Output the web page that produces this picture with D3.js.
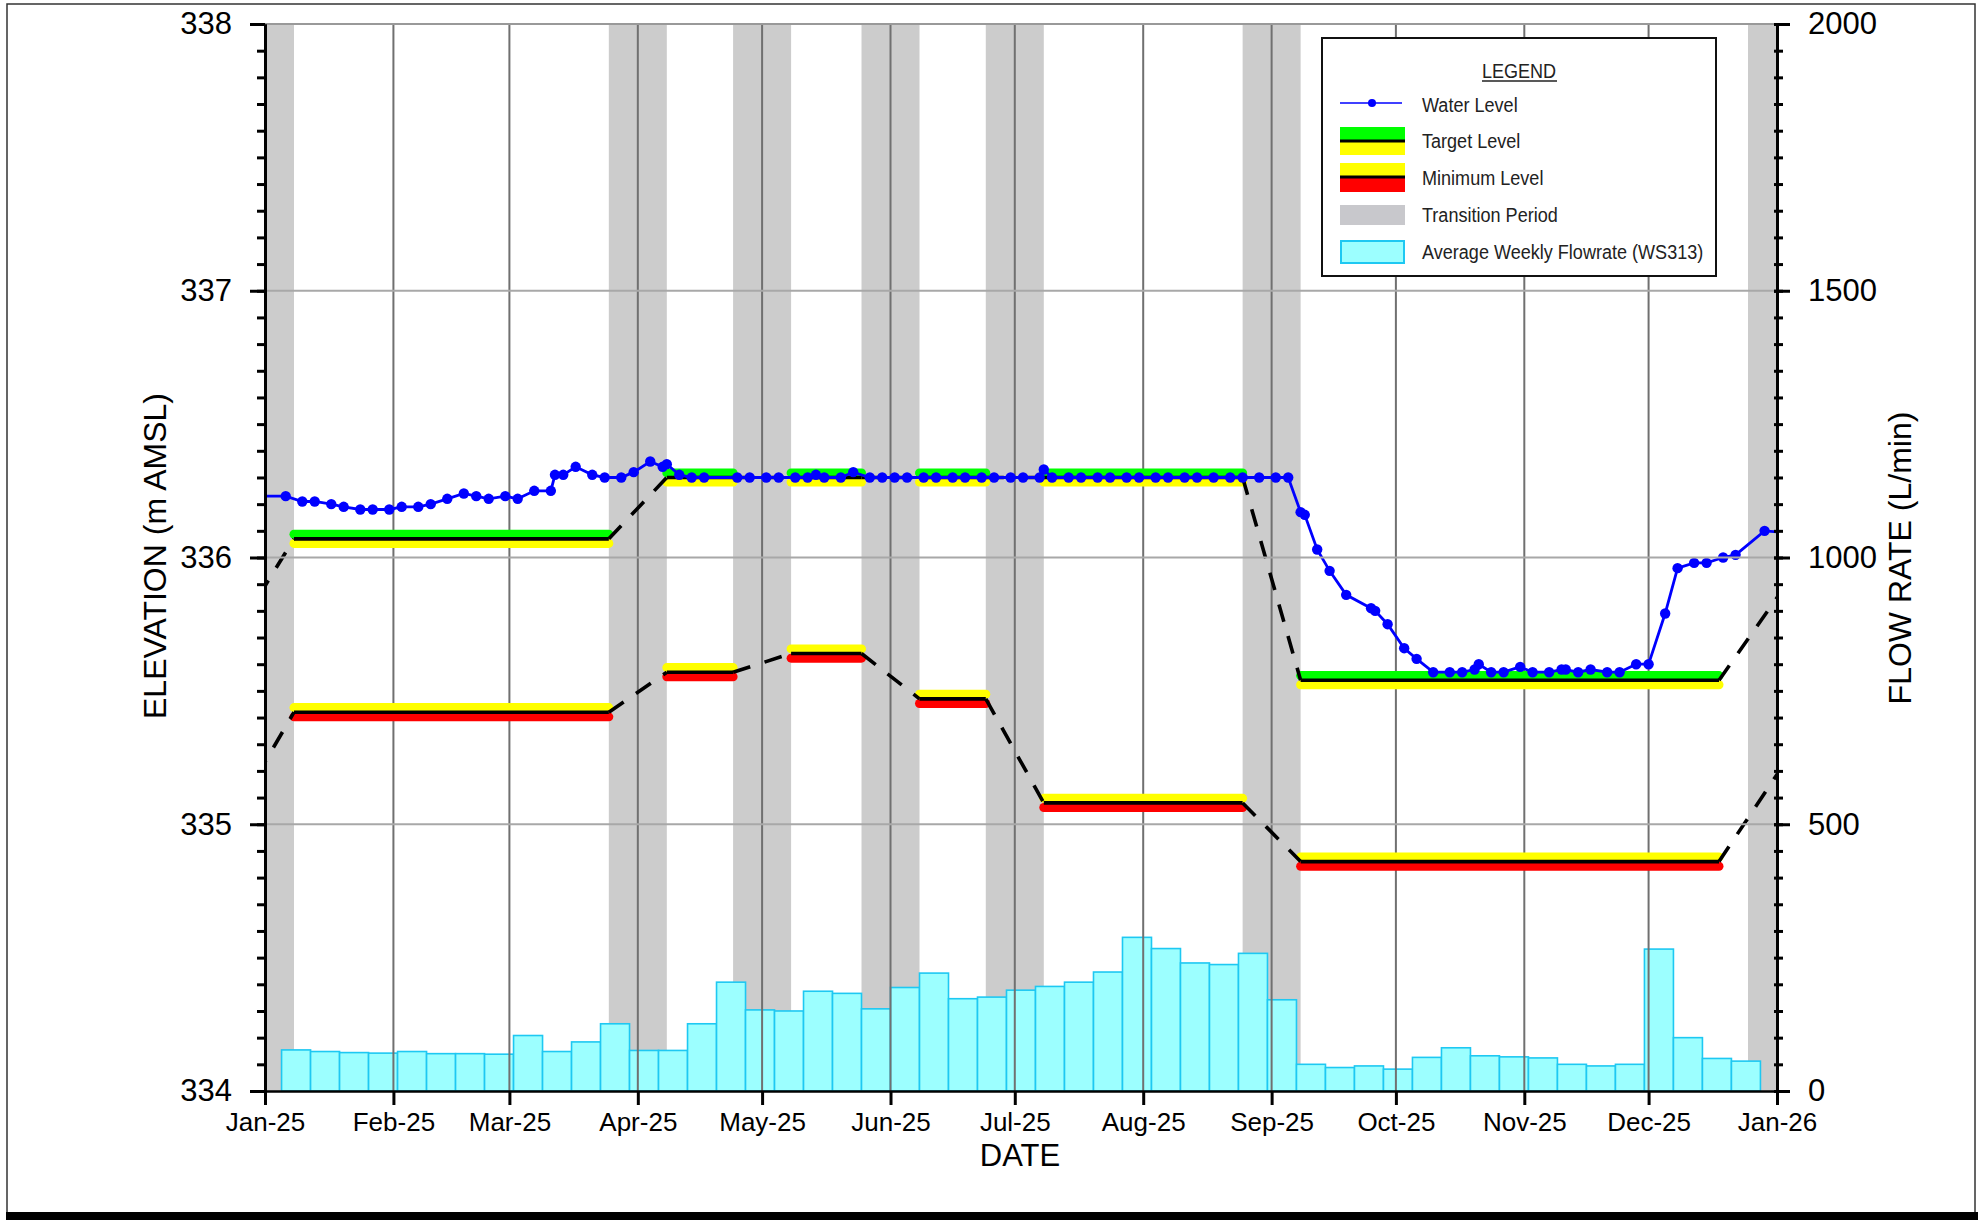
<!DOCTYPE html>
<html><head><meta charset="utf-8">
<script src="https://cdn.jsdelivr.net/npm/d3@7"></script>
<style>
html,body{margin:0;padding:0;background:#fff;}
svg{display:block;font-family:"Liberation Sans",Arial,Helvetica,sans-serif;}
</style></head><body>
<svg id="chart" width="1984" height="1220"></svg>
<script>
// ---------------- DATA ----------------
const monthTicks = ["2025-01-01","2025-02-01","2025-03-01","2025-04-01","2025-05-01","2025-06-01","2025-07-01","2025-08-01","2025-09-01","2025-10-01","2025-11-01","2025-12-01","2026-01-01"];
const monthLabels = ["Jan-25","Feb-25","Mar-25","Apr-25","May-25","Jun-25","Jul-25","Aug-25","Sep-25","Oct-25","Nov-25","Dec-25","Jan-26"];
const elevTicks = [334,335,336,337,338];
const flowTicks = [0,500,1000,1500,2000];

const transitionStart = ["2024-12-25","2025-03-25","2025-04-24","2025-05-25","2025-06-24","2025-08-25","2025-12-25"];
const transitionEnd   = ["2025-01-08","2025-04-08","2025-05-08","2025-06-08","2025-07-08","2025-09-08","2026-01-08"];

const targetStart = ["2025-01-08","2025-04-08","2025-05-08","2025-06-08","2025-07-08","2025-09-08"];
const targetEnd   = ["2025-03-25","2025-04-24","2025-05-25","2025-06-24","2025-08-25","2025-12-18"];
const targetLevel = [336.07, 336.30, 336.30, 336.30, 336.30, 335.54];
const targetLeadIn  = ["2024-12-18", 335.54];
const targetLeadOut = ["2026-01-11", 336.07];

const minimumStart = ["2025-01-08","2025-04-08","2025-05-08","2025-06-08","2025-07-08","2025-09-08"];
const minimumEnd   = ["2025-03-25","2025-04-24","2025-05-25","2025-06-24","2025-08-25","2025-12-18"];
const minimumLevel = [335.42, 335.57, 335.64, 335.47, 335.08, 334.86];
const minimumLeadIn  = ["2024-12-18", 334.86];
const minimumLeadOut = ["2026-01-11", 335.42];

const waterDates = ["2024-12-30","2025-01-06","2025-01-10","2025-01-13","2025-01-17","2025-01-20","2025-01-24","2025-01-27","2025-01-31",
"2025-02-03","2025-02-07","2025-02-10","2025-02-14","2025-02-18","2025-02-21","2025-02-24","2025-02-28",
"2025-03-03","2025-03-07","2025-03-11","2025-03-12","2025-03-14","2025-03-17","2025-03-21","2025-03-24","2025-03-28","2025-03-31",
"2025-04-04","2025-04-07","2025-04-08","2025-04-11","2025-04-14","2025-04-17","2025-04-25","2025-04-28",
"2025-05-02","2025-05-05","2025-05-09","2025-05-12","2025-05-14","2025-05-16","2025-05-20","2025-05-23","2025-05-27","2025-05-30",
"2025-06-02","2025-06-05","2025-06-09","2025-06-12","2025-06-16","2025-06-19","2025-06-23","2025-06-26","2025-06-30",
"2025-07-03","2025-07-07","2025-07-08","2025-07-10","2025-07-14","2025-07-17","2025-07-21","2025-07-24","2025-07-28","2025-07-31",
"2025-08-04","2025-08-07","2025-08-11","2025-08-14","2025-08-18","2025-08-22","2025-08-25","2025-08-29",
"2025-09-02","2025-09-05","2025-09-08","2025-09-09","2025-09-12","2025-09-15","2025-09-19","2025-09-25","2025-09-26","2025-09-29",
"2025-10-03","2025-10-06","2025-10-10","2025-10-14","2025-10-17","2025-10-20","2025-10-21","2025-10-24","2025-10-27","2025-10-31",
"2025-11-03","2025-11-07","2025-11-10","2025-11-11","2025-11-14","2025-11-17","2025-11-21","2025-11-24","2025-11-28",
"2025-12-01","2025-12-05","2025-12-08","2025-12-12","2025-12-15","2025-12-19","2025-12-22","2025-12-29","2026-01-05"];
const waterLevels = [336.23,336.23,336.21,336.21,336.20,336.19,336.18,336.18,336.18,
336.19,336.19,336.20,336.22,336.24,336.23,336.22,336.23,
336.22,336.25,336.25,336.31,336.31,336.34,336.31,336.30,336.30,336.32,
336.36,336.34,336.35,336.31,336.30,336.30,336.30,336.30,
336.30,336.30,336.30,336.30,336.31,336.30,336.30,336.32,336.30,336.30,
336.30,336.30,336.30,336.30,336.30,336.30,336.30,336.30,336.30,
336.30,336.30,336.33,336.30,336.30,336.30,336.30,336.30,336.30,336.30,
336.30,336.30,336.30,336.30,336.30,336.30,336.30,336.30,
336.30,336.30,336.17,336.16,336.03,335.95,335.86,335.81,335.80,335.75,
335.66,335.62,335.57,335.57,335.57,335.58,335.60,335.57,335.57,335.59,
335.57,335.57,335.58,335.58,335.57,335.58,335.57,335.57,335.60,
335.60,335.79,335.96,335.98,335.98,336.00,336.01,336.10,336.09];

const flowWeekStart = ["2025-01-05","2025-01-12","2025-01-19","2025-01-26","2025-02-02","2025-02-09","2025-02-16","2025-02-23",
"2025-03-02","2025-03-09","2025-03-16","2025-03-23","2025-03-30","2025-04-06","2025-04-13","2025-04-20","2025-04-27",
"2025-05-04","2025-05-11","2025-05-18","2025-05-25","2025-06-01","2025-06-08","2025-06-15","2025-06-22","2025-06-29",
"2025-07-06","2025-07-13","2025-07-20","2025-07-27","2025-08-03","2025-08-10","2025-08-17","2025-08-24","2025-08-31",
"2025-09-07","2025-09-14","2025-09-21","2025-09-28","2025-10-05","2025-10-12","2025-10-19","2025-10-26",
"2025-11-02","2025-11-09","2025-11-16","2025-11-23","2025-11-30","2025-12-07","2025-12-14","2025-12-21"];
const flowRate = [77,74,72,71,74,70,70,69,
104,74,92,126,76,76,126,204,152,
150,187,183,154,194,221,173,176,189,
196,204,223,288,267,240,237,258,171,
50,44,47,41,63,81,66,64,
62,50,47,50,266,100,61,56];

const legendLabels = ["Water Level","Target Level","Minimum Level","Transition Period","Average Weekly Flowrate (WS313)"];

// ---------------- CHART ----------------
const parse = d3.utcParse("%Y-%m-%d");
const svg = d3.select("#chart");
const L = 265, R = 1777, T = 24, B = 1091;

const x = d3.scaleUtc().domain([parse("2025-01-01"), parse("2026-01-01")]).range([L, R]);
const yL = d3.scaleLinear().domain([334, 338]).range([B, T]);
const yR = d3.scaleLinear().domain([0, 2000]).range([B, T]);

svg.append("rect").attr("width",1984).attr("height",1220).attr("fill","#fff");
// outer frame
svg.append("rect").attr("x",7).attr("y",4).attr("width",1968).attr("height",1209)
  .attr("fill","none").attr("stroke","#333").attr("stroke-width",1.5);
svg.append("rect").attr("x",6).attr("y",1212).attr("width",1972).attr("height",8).attr("fill","#000");

svg.append("defs").append("clipPath").attr("id","plotclip")
  .append("rect").attr("x",L).attr("y",T).attr("width",R-L).attr("height",B-T);
const plot = svg.append("g").attr("clip-path","url(#plotclip)");

// transition bands
plot.selectAll("rect.band").data(transitionStart).join("rect").attr("class","band")
  .attr("x", d => x(parse(d)))
  .attr("width", (d,i) => x(parse(transitionEnd[i])) - x(parse(d)))
  .attr("y", T).attr("height", B-T).attr("fill","#cccccc");

// flow bars
plot.selectAll("rect.bar").data(flowWeekStart).join("rect").attr("class","bar")
  .attr("x", d => x(parse(d)))
  .attr("width", d => x(d3.utcDay.offset(parse(d),7)) - x(parse(d)))
  .attr("y", (d,i) => yR(flowRate[i]))
  .attr("height", (d,i) => B - yR(flowRate[i]))
  .attr("fill","#9cffff").attr("stroke","#1ec8f2").attr("stroke-width",1.6);

// gridlines
plot.selectAll("line.vg").data(monthTicks.slice(1,-1)).join("line").attr("class","vg")
  .attr("x1", d => x(parse(d))).attr("x2", d => x(parse(d)))
  .attr("y1", T).attr("y2", B).attr("stroke","#707070").attr("stroke-width",2);
svg.selectAll("line.hg").data(elevTicks.slice(1)).join("line").attr("class","hg")
  .attr("x1", L).attr("x2", R)
  .attr("y1", d => yL(d)).attr("y2", d => yL(d)).attr("stroke","#a8a8a8").attr("stroke-width",2);

// level bands
function drawLevel(starts, ends, levels, leadIn, leadOut, topC, botC){
  const g = plot.append("g");
  starts.forEach((s,i) => {
    const x1 = x(parse(s)), x2 = x(parse(ends[i])), yy = yL(levels[i]);
    g.append("line").attr("x1",x1).attr("x2",x2).attr("y1",yy-4.6).attr("y2",yy-4.6)
      .attr("stroke",topC).attr("stroke-width",9).attr("stroke-linecap","round");
    g.append("line").attr("x1",x1).attr("x2",x2).attr("y1",yy+4.6).attr("y2",yy+4.6)
      .attr("stroke",botC).attr("stroke-width",9).attr("stroke-linecap","round");
  });
  starts.forEach((s,i) => {
    const yy = yL(levels[i]);
    g.append("line").attr("x1",x(parse(s))).attr("x2",x(parse(ends[i]))).attr("y1",yy).attr("y2",yy)
      .attr("stroke","#000").attr("stroke-width",3.6);
  });
  const pts = [[leadIn[0], leadIn[1]]];
  starts.forEach((s,i) => { pts.push([s, levels[i]]); pts.push([ends[i], levels[i]]); });
  pts.push([leadOut[0], leadOut[1]]);
  for (let k = 0; k < pts.length; k += 2) {
    const a = pts[k], b = pts[k+1];
    g.append("line").attr("x1",x(parse(a[0]))).attr("y1",yL(a[1]))
      .attr("x2",x(parse(b[0]))).attr("y2",yL(b[1]))
      .attr("stroke","#000").attr("stroke-width",3.6).attr("stroke-dasharray","18,15");
  }
}
drawLevel(minimumStart, minimumEnd, minimumLevel, minimumLeadIn, minimumLeadOut, "#ffff00", "#ff0000");
drawLevel(targetStart, targetEnd, targetLevel, targetLeadIn, targetLeadOut, "#00ff00", "#ffff00");

// water level
const wl = waterDates.map((d,i) => [parse(d), waterLevels[i]]);
plot.append("path").datum(wl)
  .attr("d", d3.line().x(d => x(d[0])).y(d => yL(d[1])))
  .attr("fill","none").attr("stroke","#0000ff").attr("stroke-width",2.8);
plot.selectAll("circle.wl").data(wl).join("circle").attr("class","wl")
  .attr("cx", d => x(d[0])).attr("cy", d => yL(d[1])).attr("r",5.2).attr("fill","#0000ff");

// top border of plot
svg.append("line").attr("x1",L).attr("x2",R).attr("y1",T).attr("y2",T).attr("stroke","#999").attr("stroke-width",2);

// axes
const axL = svg.append("g").attr("transform",`translate(${L},0)`)
  .call(d3.axisLeft(yL).tickValues(d3.range(334,338.001,0.1)).tickSize(8).tickSizeOuter(0).tickFormat(""));
const axL2 = svg.append("g").attr("transform",`translate(${L},0)`)
  .call(d3.axisLeft(yL).tickValues(elevTicks).tickSize(15).tickSizeOuter(0).tickPadding(18).tickFormat(d3.format("d")));
const axR = svg.append("g").attr("transform",`translate(${R},0)`)
  .call(d3.axisRight(yR).tickValues(d3.range(0,2001,50)).tickSize(6).tickSizeOuter(0).tickFormat(""));
const axR2 = svg.append("g").attr("transform",`translate(${R},0)`)
  .call(d3.axisRight(yR).tickValues(flowTicks).tickSize(13).tickSizeOuter(0).tickPadding(18).tickFormat(d3.format("d")));
axR.selectAll(".tick line").attr("x1",-3);
axR2.selectAll(".tick line").attr("x1",-3);
const axB = svg.append("g").attr("transform",`translate(0,${B})`)
  .call(d3.axisBottom(x).tickValues(monthTicks.map(parse)).tickSize(14).tickSizeOuter(0).tickPadding(8)
    .tickFormat((d,i) => monthLabels[i]));
[axL, axL2, axR, axR2].forEach(a => {
  a.selectAll(".domain").attr("stroke","#000").attr("stroke-width",3);
  a.selectAll(".tick line").attr("stroke","#000").attr("stroke-width",3);
  a.selectAll("text").attr("font-size",31).attr("fill","#000").attr("font-family","Liberation Sans, Arial, sans-serif");
});
axB.selectAll(".domain").attr("stroke","#000").attr("stroke-width",2.5);
axB.selectAll(".tick line").attr("stroke","#000").attr("stroke-width",3);
axB.selectAll("text").attr("font-size",26).attr("fill","#000").attr("font-family","Liberation Sans, Arial, sans-serif");

// axis titles
svg.append("text").attr("transform","translate(166,556) rotate(-90)").attr("text-anchor","middle")
  .attr("font-size",32).attr("fill","#000").text("ELEVATION (m AMSL)");
svg.append("text").attr("transform","translate(1911,558) rotate(-90)").attr("text-anchor","middle")
  .attr("font-size",32).attr("fill","#000").text("FLOW RATE (L/min)");
svg.append("text").attr("x",1020).attr("y",1166).attr("text-anchor","middle")
  .attr("font-size",31).attr("fill","#000").text("DATE");

// legend
const lg = svg.append("g");
lg.append("rect").attr("x",1322).attr("y",38).attr("width",394).attr("height",238)
  .attr("fill","#fff").attr("stroke","#111").attr("stroke-width",2);
lg.append("text").attr("transform","translate(1519,78) scale(0.86,1)").attr("text-anchor","middle")
  .attr("font-size",21).attr("fill","#222").text("LEGEND");
lg.append("line").attr("x1",1482).attr("x2",1557).attr("y1",81).attr("y2",81).attr("stroke","#222").attr("stroke-width",1.5);
const rowBase = [111.5, 148.3, 185, 221.7, 258.5];
legendLabels.forEach((t,i) => {
  lg.append("text").attr("transform",`translate(1422,${rowBase[i]}) scale(0.86,1)`)
    .attr("font-size",21).attr("fill","#222").text(t);
});
lg.append("line").attr("x1",1340).attr("x2",1402).attr("y1",103).attr("y2",103).attr("stroke","#0000ff").attr("stroke-width",1.5);
lg.append("circle").attr("cx",1372).attr("cy",103).attr("r",4).attr("fill","#0000ff");
lg.append("rect").attr("x",1340).attr("y",127).attr("width",65).attr("height",13).attr("fill","#00ff00");
lg.append("rect").attr("x",1340).attr("y",142).attr("width",65).attr("height",13).attr("fill","#ffff00");
lg.append("rect").attr("x",1340).attr("y",139.5).attr("width",65).attr("height",3).attr("fill","#000");
lg.append("rect").attr("x",1340).attr("y",163).attr("width",65).attr("height",13).attr("fill","#ffff00");
lg.append("rect").attr("x",1340).attr("y",178).attr("width",65).attr("height",14).attr("fill","#ff0000");
lg.append("rect").attr("x",1340).attr("y",175.5).attr("width",65).attr("height",3).attr("fill","#000");
lg.append("rect").attr("x",1340).attr("y",205).attr("width",65).attr("height",20).attr("fill","#c8c8cc");
lg.append("rect").attr("x",1341).attr("y",241).attr("width",63).attr("height",22).attr("fill","#9cffff").attr("stroke","#1ec8f2").attr("stroke-width",2);
</script>
</body></html>
